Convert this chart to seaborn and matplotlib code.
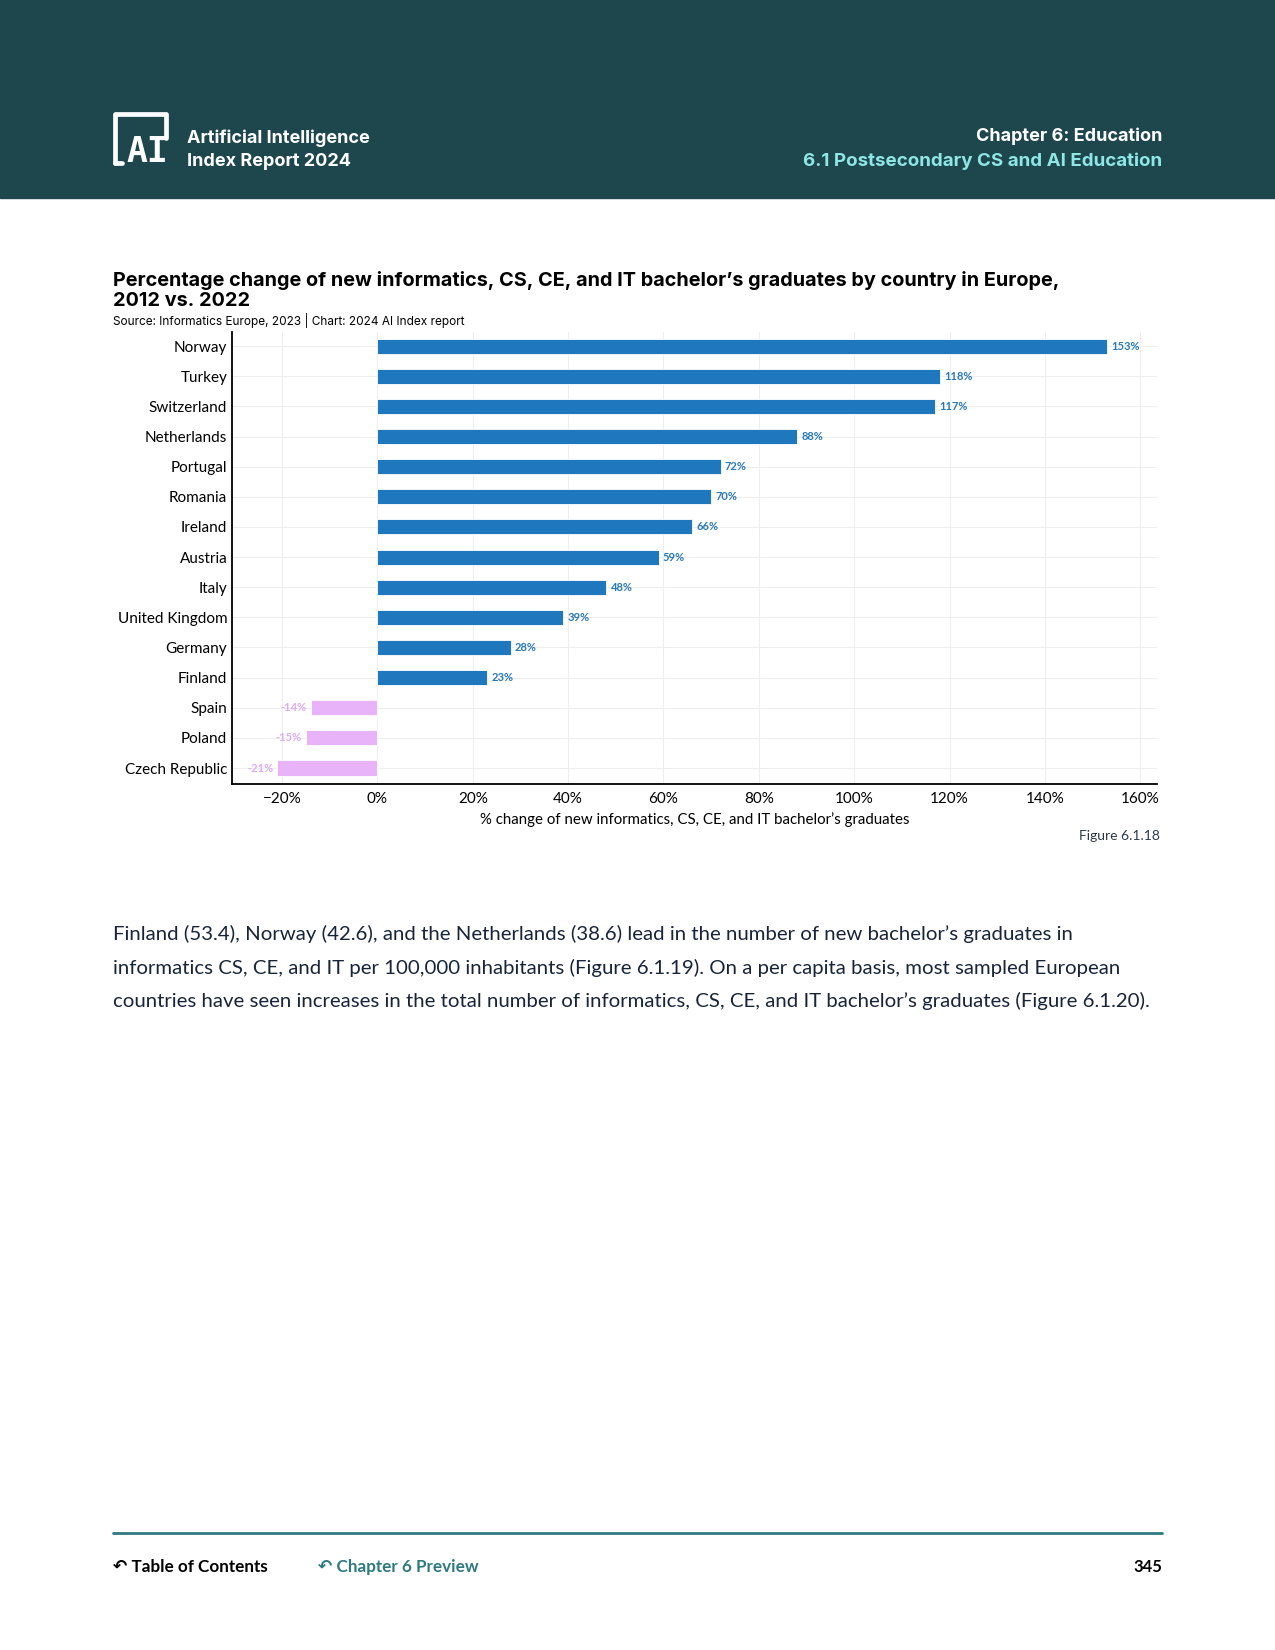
import matplotlib
matplotlib.use("Agg")
import matplotlib.pyplot as plt
import seaborn as sns
import pandas as pd
from matplotlib.lines import Line2D
from matplotlib.patches import Rectangle

countries = ["Norway", "Turkey", "Switzerland", "Netherlands", "Portugal", "Romania",
             "Ireland", "Austria", "Italy", "United Kingdom", "Germany", "Finland",
             "Spain", "Poland", "Czech Republic"]
pct_change = [153, 118, 117, 88, 72, 70, 66, 59, 48, 39, 28, 23, -14, -15, -21]
x_ticks = [-20, 0, 20, 40, 60, 80, 100, 120, 140, 160]

BLUE = "#1f77bd"
PINK = "#e8b3f8"
BLUE_TXT = "#2a78b6"
PINK_TXT = "#deaaf2"
HEADER = "#1e474d"
TEAL = "#2f7a80"

sns.set_theme(style="white")
plt.rcParams["font.family"] = ["Lato", "DejaVu Sans"]
INTER = ["Inter", "DejaVu Sans"]

df = pd.DataFrame({"country": countries, "value": pct_change})
df["sign"] = ["pos" if v >= 0 else "neg" for v in df["value"]]

fig = plt.figure(figsize=(12.75, 16.5), dpi=100)

# header band
fig.patches.append(Rectangle((0, 1 - 198 / 1650), 1, 198 / 1650, transform=fig.transFigure,
                             color=HEADER, zorder=0))

def fx(px):
    return px / 1275

def fy(py):
    return 1 - py / 1650

# logo
lw = 3.4
fig.add_artist(Line2D([fx(115), fx(115), fx(166), fx(166)], [fy(163), fy(114), fy(114), fy(138)],
                      transform=fig.transFigure, color="white", lw=lw, solid_capstyle="round"))
fig.add_artist(Line2D([fx(115), fx(122)], [fy(163), fy(163)], transform=fig.transFigure,
                      color="white", lw=lw, solid_capstyle="round"))
fig.text(fx(147), fy(152), "AI", color="white", fontsize=25, fontweight="bold",
         ha="center", va="center", family=["DejaVu Sans Mono", "DejaVu Sans"])
fig.text(fx(187), fy(138), "Artificial Intelligence", color="white", fontsize=13,
         fontweight="bold", ha="left", va="center", family=INTER)
fig.text(fx(187), fy(161), "Index Report 2024", color="white", fontsize=13,
         fontweight="bold", ha="left", va="center", family=INTER)
fig.text(fx(1162), fy(136), "Chapter 6: Education", color="white", fontsize=13,
         fontweight="bold", ha="right", va="center", family=INTER)
fig.text(fx(1162), fy(161), "6.1 Postsecondary CS and AI Education", color="#8ee6e6",
         fontsize=13.5, fontweight="bold", ha="right", va="center", family=INTER)

# chart titles
fig.text(fx(113), fy(280), "Percentage change of new informatics, CS, CE, and IT bachelor\u2019s graduates by country in Europe,",
         fontsize=14.3, fontweight="bold", color="black", ha="left", va="center", family=INTER)
fig.text(fx(113), fy(301), "2012 vs. 2022", fontsize=14.3, fontweight="bold", color="black",
         ha="left", va="center", family=INTER)
fig.text(fx(113), fy(320), "Source: Informatics Europe, 2023 | Chart: 2024 AI Index report",
         fontsize=8.5, color="black", ha="left", va="center", family=INTER)

ax = fig.add_axes([231.5 / 1275, 1 - 784 / 1650, (1157 - 231.5) / 1275, (784 - 332) / 1650])
sns.barplot(data=df, y="country", x="value", hue="sign", palette={"pos": BLUE, "neg": PINK},
            orient="h", width=0.5, dodge=False, legend=False, ax=ax, saturation=1,
            edgecolor="white", linewidth=0.6, zorder=3)

ax.set_xlim(-30.6, 163.5)
ax.set_ylim(14.53, -0.47)
ax.set_xticks(x_ticks)
ax.set_xticklabels([("\u2212%d%%" % -t) if t < 0 else "%d%%" % t for t in x_ticks])
ax.tick_params(axis="both", length=0, labelsize=11, colors="black", pad=6)
ax.tick_params(axis="y", pad=3)
ax.set_ylabel("")
ax.set_xlabel("% change of new informatics, CS, CE, and IT bachelor\u2019s graduates",
              fontsize=10.8, color="black", labelpad=4)
ax.grid(True, color="#eeeeee", lw=0.8, zorder=0)
ax.set_axisbelow(True)
for s in ["top", "right"]:
    ax.spines[s].set_visible(False)
for s in ["left", "bottom"]:
    ax.spines[s].set_color("black")
    ax.spines[s].set_linewidth(1.3)

for i, v in enumerate(pct_change):
    if v >= 0:
        ax.annotate("%d%%" % v, (v, i), xytext=(3, 0), textcoords="offset points",
                    ha="left", va="center", fontsize=8, fontweight="bold", color=BLUE_TXT)
    else:
        ax.annotate("%d%%" % v, (v, i), xytext=(-3, 0), textcoords="offset points",
                    ha="right", va="center", fontsize=8, fontweight="bold", color=PINK_TXT)

fig.text(fx(1160), fy(836), "Figure 6.1.18", fontsize=10, color="#2b3a4a", ha="right", va="center")

body = ["Finland (53.4), Norway (42.6), and the Netherlands (38.6) lead in the number of new bachelor\u2019s graduates in",
        "informatics CS, CE, and IT per 100,000 inhabitants (Figure 6.1.19). On a per capita basis, most sampled European",
        "countries have seen increases in the total number of informatics, CS, CE, and IT bachelor\u2019s graduates (Figure 6.1.20)."]
for k, line in enumerate(body):
    fig.text(fx(113), fy(934 + 33.5 * k), line, fontsize=14.7, color="#17243a", ha="left", va="center")

# footer
fig.add_artist(Line2D([fx(113), fx(1162)], [fy(1533), fy(1533)], transform=fig.transFigure,
                      color=TEAL, lw=2))
fig.text(fx(113), fy(1567), "\u21b6 Table of Contents", fontsize=12.3, fontweight="bold",
         color="black", ha="left", va="center")
fig.text(fx(318), fy(1567), "\u21b6 Chapter 6 Preview", fontsize=12.3, fontweight="bold",
         color=TEAL, ha="left", va="center")
fig.text(fx(1162), fy(1567), "345", fontsize=12, fontweight="bold", color="black",
         ha="right", va="center")

fig.savefig("out.png", dpi=100, facecolor="white")
